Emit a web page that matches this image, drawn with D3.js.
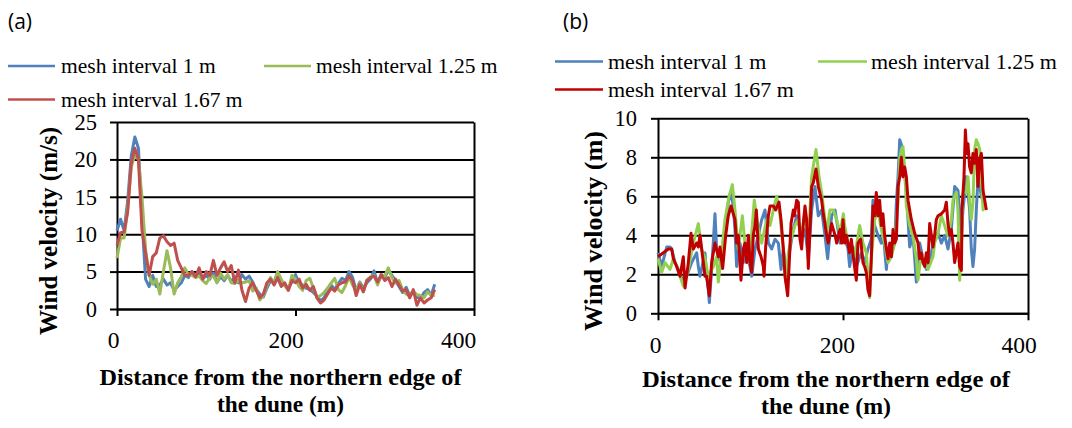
<!DOCTYPE html>
<html>
<head>
<meta charset="utf-8">
<script src="https://cdn.jsdelivr.net/npm/d3@7"></script>
<style>
  body { margin: 0; background: #fff; }
</style>
</head>
<body>
<div id="chart"></div>
<script>
// panel (a): wind velocity read every 4 m along the transect
var aDist = [0,4,8,12,16,20,24,28,32,36,40,44,48,52,56,60,64,68,72,76,80,84,88,92,96,100,104,108,112,116,
             120,124,128,132,136,140,144,148,152,156,160,164,168,172,176,180,184,188,192,196,200,204,208,212,216,220,224,228,232,236,
             240,244,248,252,256,260,264,268,272,276,280,284,288,292,296,300,304,308,312,316,320,324,328,332,336,340,344,348,352,356];
var aBlue = [10.5,12,10.5,14.5,20.5,23,21.5,12,4,3, 4.5,3,3.2,4,3.2,3.5,2.5,3,3.5,4.5,
             4.2,5,4.3,4.8,4,4.5,4,4.8,3.6,4.3, 3.8,4.5,3.7,4.2,3.5,4.6,4,4.4,3.6,2.6,
             2,1.6,2.8,3.8,3.6,4.9,3.5,3.2,2.8,3.6, 4.6,3.3,3.2,2.8,2.6,2.2,1.7,1.1,1.5,2.5,
             3.2,2.6,3.4,4.1,3.8,5,4.2,2.4,3.6,2.8, 3.5,4,5.1,3.5,4.3,4.2,5.2,4.5,3.8,3,
             2.2,2.9,1.8,2.2,1.6,1.3,2.2,2.6,1.8,3.3];
var aGreen = [6.8,9.5,9.5,13.5,19,20.5,20,15,8,4.5, 3.3,4,2,5,7.8,5.5,2,3.5,4.3,5.5,
              4.6,4.5,4.2,4.4,3.8,3.4,4.2,4.4,3.5,4.8, 4,4.6,3.5,3.4,3.8,3.5,3.6,3.8,2.4,2.8,
              1.2,1.8,3.2,4.2,3.4,5,4,3.1,2.5,4.5, 4,3,2.5,3.8,4.1,2.8,1.5,1.8,2.2,2.8,
              3.5,4.1,2.6,2.2,3.1,4.3,3.2,2.5,3.5,2.3, 3.9,4.3,4.5,3.2,4.6,4.4,5.5,4.2,3.5,3.8,
              2.6,2,1.8,2.4,1.9,1.8,1.5,2.3,1.8,1.8];
var aRed = [8.5,10.2,10.3,13,19.5,21.5,20,10.5,7.5,4.5, 7,7.5,9.5,9.8,9,8.5,8.8,6.5,5.5,4.5,
            4.5,5,4.3,5.5,4,5,4.5,6.5,4.5,5.5, 6.3,5,5.8,3.5,5.2,2.5,1,2.8,3.5,2.5,
            1.5,2,3.5,4,3.2,4.2,3,3.5,2.5,3.8, 3.5,4,2.8,3.3,2.5,3,1.5,0.8,1.2,2,
            2.8,2.4,3.2,3.5,3.6,4.4,3.8,1.8,3.3,2.3, 3.8,4.2,4.4,3.6,4.6,3.8,4.2,3,4,3.2,
            2.4,2.6,1.5,2.6,0.5,1.5,0.8,1.2,1.5,2.6];

var bBlue = [[0,3.1],[4,2.4],[9.4,3.4],[13,3.4],[14.8,3.3],[18.4,2.6],[22,2.25],[27.4,1.6],[31,1.9],[36.4,2.6],
  [41.8,3.1],[43.6,2.4],[45.4,1.9],[50.8,3.1],[52.6,1.9],[54.4,1.2],[55.5,0.55],[58,2.25],[61.6,5.1],[63.4,3.3],
  [68.8,2.4],[72.4,4],[76,5.7],[78.9,6.2],[81.4,5.5],[83.2,4.3],[85,2.4],[88.6,3.6],[92.3,2.6],[95.9,3.3],
  [101.3,1.9],[104.9,3.3],[108.5,4],[112.1,4.8],[115.7,5.3],[119.3,3.6],[122.9,3.3],[126.5,3.8],[130.1,3.6],[133,2.25],
  [135.5,3.3],[139.1,1.9],[142.7,3.3],[146.3,4.3],[149.9,5],[155.3,4],[158.9,4.3],[162.5,2.8],[166.1,5.3],[169.7,6.5],
  [173.3,5],[176.9,5.3],[180.5,4],[183.4,2.8],[187.7,5],[191.4,5.3],[196.8,3.6],[200.4,4.5],[203.6,3.6],[205.4,3.3],
  [207.2,2.4],[210.8,3.4],[214.4,2.4],[219.8,3.1],[223.4,2.6],[227,3.3],[230.6,3.8],[232.4,5.8],[234.2,4.5],[237.8,4],
  [241.4,3.6],[243.2,4.3],[246.9,2.25],[248.7,3.3],[252.3,3.1],[255.9,3.6],[257.7,5.7],[259.5,7],[261.3,8.9],[263.8,8.55],
  [266,7.5],[268.5,6.2],[270.3,4.8],[272.1,3.4],[275.7,4],[279.3,1.6],[282.9,3.6],[286.5,2.8],[290.1,2.25],[295.5,3.1],
  [299.1,4],[302.7,4.1],[306.3,3.6],[309.9,4],[313.5,3.3],[317.1,4.3],[320.7,6.5],[324.3,6.3],[326.1,5.3],[328,4],
  [329.7,5.3],[333.3,7],[336.9,5.3],[338.7,3.3],[340.5,2.4],[342.3,3.3],[344.1,5.3],[345.9,6.85],[347.8,6.5],[349.6,6],
  [353.2,5.5]];
var bGreen = [[0,2.8],[4,2.1],[7.6,2.6],[13,2.25],[16.6,2.8],[20.2,2.4],[23.8,1.9],[27.4,1.4],[32.8,2.25],[38.2,3.6],
  [43.6,4.6],[47.2,3.3],[50.8,2.8],[54.4,1.9],[59.8,2.4],[63.4,2.9],[65.2,1.6],[68.8,3.1],[72.4,4.8],[76.8,6],
  [80.4,6.6],[83.2,5.3],[86.8,3.3],[91.2,5],[94,3.6],[97.7,2.6],[101.3,4.1],[104.1,5.8],[108.5,4.3],[112.1,3.6],
  [117.5,4.8],[121.1,4.5],[124.7,5.3],[128.3,6],[131.9,5],[135.5,3.3],[138,1.6],[140.9,3.1],[144.5,3.95],[148.1,4.5],
  [151.7,4.8],[155.3,3.95],[158.9,5.3],[162.5,3.6],[164.3,5.3],[166.1,7],[170.8,8.4],[174.1,7],[176.9,6.2],[180.5,4.8],
  [182.3,4.1],[185.9,5.3],[189.5,5.3],[193.2,4.8],[196.8,4.1],[200.4,5.1],[201.8,4.5],[205.4,3.6],[209,3.3],[212.6,2.9],
  [216.2,3.95],[218,4.5],[221.6,3.6],[225.2,3.1],[228.8,0.8],[230.6,2.8],[234.2,4.8],[237.8,5.3],[241.4,4.3],[245,3.6],
  [248.7,2.6],[252.3,2.9],[255.9,3.6],[259.5,5.7],[261.3,7.9],[263.1,8.4],[264.9,8.55],[266.7,7.4],[268.5,5.5],[272.1,4.5],
  [275.7,3.95],[279.3,2.8],[281.1,1.7],[284.7,3.1],[288.3,2.6],[291.9,2.25],[297.3,2.9],[299.1,3.6],[302.7,4.1],[306.3,5],
  [309.9,4.5],[313.5,3.95],[317.1,4.8],[318.9,5.8],[322.5,6.2],[324.3,5.3],[326.1,1.7],[328,3.3],[329.7,6.2],[333.3,6.2],
  [335.1,7],[336.9,5.7],[338.7,4.8],[340.5,5.7],[342.3,8.4],[344.1,8.9],[345.9,8.7],[347.8,8.4],[349.6,6.85],[351.4,5.3],
  [353.2,5.6]];
var bRed = [[0,2.9],[11.2,3.3],[14.8,3.3],[16.6,2.8],[20.2,2.4],[23.8,1.9],[27.4,2.9],[29.2,1.3],[32.8,2.6],[35.7,4.1],
  [38.2,3.3],[41.8,3.6],[43.6,3.4],[45.4,4],[47.2,3.3],[50.8,1.9],[52.6,1.9],[55.5,0.9],[58,2.6],[61.6,3.6],
  [65.2,2.9],[67,3.4],[69.9,2.3],[73.2,4],[76,5],[78.9,5.5],[81.4,5.1],[83.2,4.8],[85,3.6],[86.8,4],
  [88.6,2.6],[89.7,1.7],[92.3,3.3],[94,3.6],[95.9,2.6],[97.7,4],[99.5,2.6],[101.3,2.1],[103,4],[104.9,4.5],
  [106.3,5.3],[108.5,3.3],[111.4,2.9],[113.9,2.4],[114.6,1.9],[116.4,3.4],[119.3,5],[121.1,5.5],[124.7,5.5],[127.2,5.3],
  [130.8,5.7],[133,4.8],[135.5,3.3],[137.3,1.9],[140.2,0.9],[141.6,2.3],[143.8,4.6],[146.3,5.3],[147.4,5],[149.9,5.8],
  [151.7,5.7],[153.5,3.8],[155.3,3.3],[157.1,4.6],[158.9,5.5],[160.7,4.8],[162.5,2.3],[164.3,4.3],[166.1,6.5],[167.9,6.7],
  [170.8,7.4],[173.3,6.5],[176.9,5.8],[178.7,5.1],[180.5,4.6],[182.3,4],[184.1,3.6],[187.7,4.6],[191.4,4],[193.2,3.6],
  [196.8,4.3],[198.6,3.6],[200,4.8],[201.8,3.6],[203.6,4],[207.2,3.1],[209,3.8],[211.9,2.6],[214.4,1.7],[216.2,3.6],
  [219.1,3.8],[221.6,2.6],[223.4,2.4],[225.2,2.1],[227,1.2],[228.8,0.9],[230.6,2.8],[232.4,5.5],[234.2,5],[236,6.2],
  [237.8,5],[239.6,5.8],[241.4,4.5],[243.2,5.1],[245,4],[246.9,3.3],[248.7,2.8],[250.5,3.6],[252.3,2.9],[254.1,4.3],
  [255.9,3.6],[257.7,3.8],[259.5,6.5],[261.3,7],[263.1,8],[264.9,7],[266.7,7.5],[268.5,7],[270.3,5.8],[272.1,5.3],
  [273.9,4.8],[277.5,4.1],[281.1,3.6],[282.9,2.8],[284.7,3.1],[286.5,2.6],[288.3,2.4],[290.1,3.1],[291.9,2.6],[293.7,4.6],
  [295.5,4],[297.3,3.4],[299.1,4],[300.9,4.8],[302.7,5],[306.3,5.1],[309.9,5.3],[311.7,5.7],[313.5,4.6],[315.3,4],
  [317.1,4.3],[318.9,3.6],[320.7,2.6],[322.5,3.1],[324.3,3.6],[326.1,2.4],[328,2.2],[328.7,5.3],[330.8,7],[332.3,9.4],
  [333.7,8.2],[335.1,8.7],[336.9,7.5],[338.7,7.2],[340.5,8.2],[342.3,7.7],[344.1,8.4],[345.9,6.5],[347.8,7.9],[349.6,8.2],
  [351.4,6.3],[353.2,5.8],[355,5.3]];

var seriesNames = ["mesh interval 1 m", "mesh interval 1.25 m", "mesh interval 1.67 m"];
var xTicks = [0, 200, 400];
var aYTicks = [0, 5, 10, 15, 20, 25];
var bYTicks = [0, 2, 4, 6, 8, 10];

var width = 1072;
var height = 428;
var serif = "'Liberation Serif', 'Times New Roman', serif";

var svg = d3.select("#chart")
            .append("svg")
            .attr("width", width)
            .attr("height", height)
            .style("background", "#fff");

function drawPanel(p) {
    var x = d3.scaleLinear().domain([0, 400]).range([p.left, p.right]);
    var y = d3.scaleLinear().domain([0, p.yMax]).range([p.bottom, p.top]);
    // labels on the x axis sit a little left of their ticks in the original
    var xLab = d3.scaleLinear().domain([0, 400]).range(p.labRange);
    var g = svg.append("g");

    // horizontal gridlines
    g.append("g")
     .attr("transform", "translate(" + p.left + ",0)")
     .call(d3.axisLeft(y).tickValues(p.yTicks).tickSize(-(p.right - p.left)).tickFormat(""))
     .call(function(s) {
         s.select(".domain").remove();
         s.selectAll("line").attr("stroke", "#000").attr("stroke-width", 2);
     });

    // y axis with labels
    g.append("g")
     .attr("transform", "translate(" + p.left + ",0)")
     .call(d3.axisLeft(y).tickValues(p.yTicks).tickSize(7).tickSizeOuter(0).tickPadding(p.yPad))
     .call(function(s) {
         s.selectAll("line, path").attr("stroke", "#000").attr("stroke-width", 2);
         s.selectAll("text")
          .attr("font-family", serif)
          .attr("font-size", p.yFont)
          .attr("fill", "#000");
     });

    // right border
    g.append("g")
     .attr("transform", "translate(" + p.right + ",0)")
     .call(d3.axisRight(y).tickValues([]).tickSizeOuter(0))
     .selectAll("path").attr("stroke", "#000").attr("stroke-width", 2);

    // x axis ticks
    g.append("g")
     .attr("transform", "translate(0," + p.bottom + ")")
     .call(d3.axisBottom(x).tickValues(xTicks).tickSize(7).tickSizeOuter(0).tickFormat(""))
     .selectAll("line, path").attr("stroke", "#000").attr("stroke-width", 2);

    // x axis labels
    g.append("g")
     .attr("transform", "translate(0," + p.xLabY + ")")
     .call(d3.axisBottom(xLab).tickValues(xTicks).tickSize(0))
     .call(function(s) {
         s.select(".domain").remove();
         s.selectAll("text")
          .attr("y", 0)
          .attr("dy", 0)
          .attr("font-family", serif)
          .attr("font-size", 23.5)
          .attr("fill", "#000");
     });

    var line = d3.line()
                 .x(function(d) { return x(d[0]); })
                 .y(function(d) { return y(d[1]); });

    p.series.forEach(function(s) {
        g.append("path")
         .datum(s.points)
         .attr("fill", "none")
         .attr("stroke", s.color)
         .attr("stroke-width", 3)
         .attr("stroke-linejoin", "round")
         .attr("d", line);
    });

    // legend
    p.legend.forEach(function(l, i) {
        g.append("line")
         .attr("x1", l.x1).attr("x2", l.x2)
         .attr("y1", l.ly).attr("y2", l.ly)
         .attr("stroke", p.series[i].color)
         .attr("stroke-width", 2.6);
        g.append("text")
         .attr("x", l.tx)
         .attr("y", l.ty)
         .attr("font-family", serif)
         .attr("font-size", p.legFont)
         .text(seriesNames[i]);
    });

    // panel letter
    g.append("text")
     .attr("x", p.tagX)
     .attr("y", 29)
     .attr("font-family", "'Open Sans', sans-serif")
     .attr("font-size", 21)
     .text(p.tag);

    // y title
    g.append("text")
     .attr("transform", "translate(" + p.yTitleX + "," + p.yTitleY + ") rotate(-90)")
     .attr("text-anchor", "middle")
     .attr("font-family", serif)
     .attr("font-weight", "bold")
     .attr("font-size", 25)
     .attr("textLength", p.yTitleLen)
     .attr("lengthAdjust", "spacingAndGlyphs")
     .text(p.yTitle);

    // x title, two lines
    g.append("text")
     .attr("x", p.xTitleX)
     .attr("y", p.xTitleY[0])
     .attr("text-anchor", "middle")
     .attr("font-family", serif)
     .attr("font-weight", "bold")
     .attr("font-size", 24)
     .attr("textLength", p.xTitleLen[0])
     .attr("lengthAdjust", "spacingAndGlyphs")
     .text("Distance from the northern edge of");
    g.append("text")
     .attr("x", p.xTitleX)
     .attr("y", p.xTitleY[1])
     .attr("text-anchor", "middle")
     .attr("font-family", serif)
     .attr("font-weight", "bold")
     .attr("font-size", 24)
     .attr("textLength", p.xTitleLen[1])
     .attr("lengthAdjust", "spacingAndGlyphs")
     .text("the dune (m)");
}

drawPanel({
    tag: "(a)", tagX: 8,
    left: 117, right: 474, top: 122, bottom: 309,
    yMax: 25, yTicks: aYTicks, yPad: 13, yFont: 22.5,
    labRange: [113, 458], xLabY: 348,
    series: [
        { color: "#4f81bd", points: d3.zip(aDist, aBlue) },
        { color: "#9bbb59", points: d3.zip(aDist, aGreen) },
        { color: "#c0504d", points: d3.zip(aDist, aRed) }
    ],
    legFont: 21.5,
    legend: [
        { x1: 8, x2: 55, ly: 66, tx: 61, ty: 73 },
        { x1: 264, x2: 311, ly: 66, tx: 316, ty: 73 },
        { x1: 8, x2: 55, ly: 99.5, tx: 61, ty: 106.5 }
    ],
    yTitle: "Wind velocity (m/s)", yTitleX: 57, yTitleY: 231, yTitleLen: 208,
    xTitleX: 280.5, xTitleY: [385, 411.5], xTitleLen: [362, 127]
});

drawPanel({
    tag: "(b)", tagX: 563,
    left: 658, right: 1028, top: 118.3, bottom: 313.3,
    yMax: 10, yTicks: bYTicks, yPad: 14, yFont: 22.5,
    labRange: [655, 1018.5], xLabY: 352.5,
    series: [
        { color: "#4f81bd", points: bBlue },
        { color: "#92d050", points: bGreen },
        { color: "#c00000", points: bRed }
    ],
    legFont: 22,
    legend: [
        { x1: 555, x2: 603, ly: 61.5, tx: 608, ty: 69 },
        { x1: 818, x2: 867, ly: 61.5, tx: 871, ty: 69 },
        { x1: 555, x2: 603, ly: 89.5, tx: 608, ty: 97 }
    ],
    yTitle: "Wind velocity (m)", yTitleX: 602, yTitleY: 231, yTitleLen: 200,
    xTitleX: 826, xTitleY: [386.5, 414], xTitleLen: [368, 130]
});
</script>
</body>
</html>
